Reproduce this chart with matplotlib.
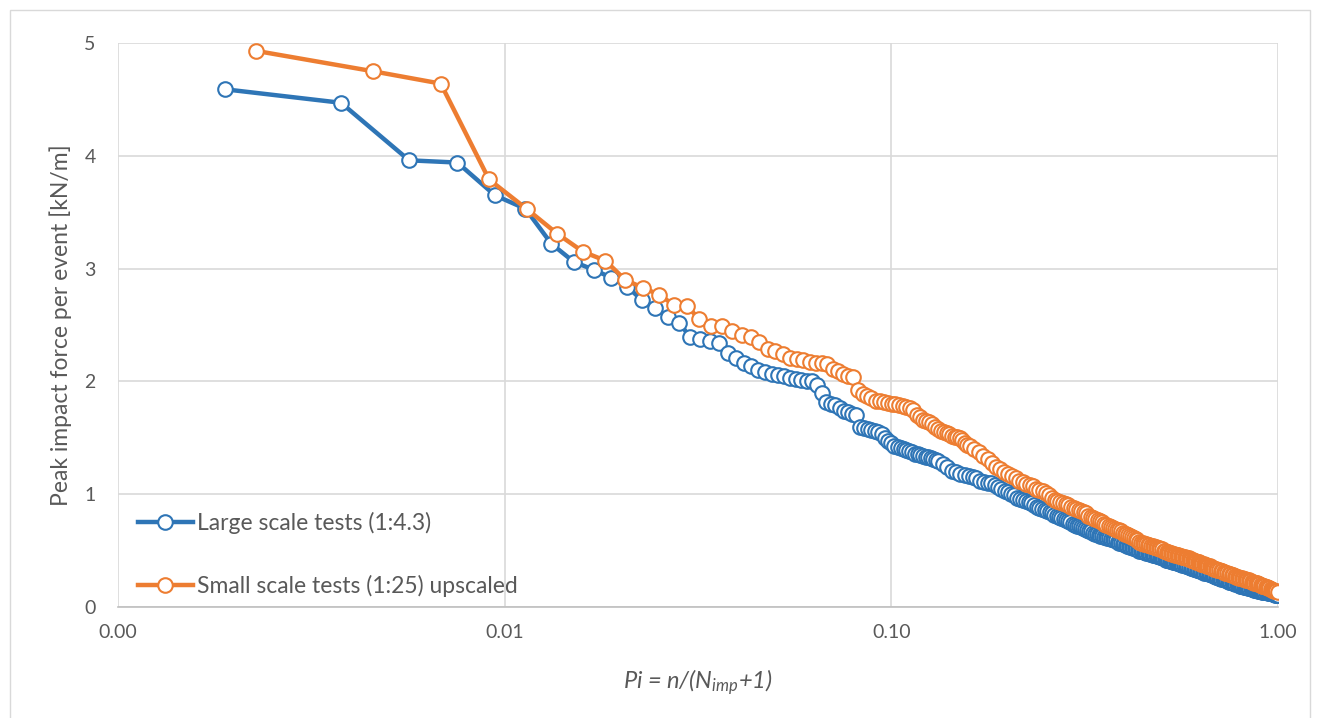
import matplotlib

matplotlib.use("Agg")

import matplotlib.pyplot as plt
from matplotlib.patches import Rectangle
from matplotlib.ticker import FixedLocator, FixedFormatter, NullLocator


# 冲击次数 N_imp（两组试验）
LARGE_N_IMP = 529
SMALL_N_IMP = 438

# 大比尺试验 (1:4.3)：排序序号 n 与对应峰值冲击力 [kN/m]
# 尾部点很密，按 2 / 3 的序号间隔读取
large_rank = (list(range(1, 71)) + list(range(72, 101, 2)) + list(range(102, 301, 2))
              + list(range(303, 529, 3)) + [529])
large_force = [
    4.59, 4.47, 3.96, 3.94, 3.65, 3.53, 3.22, 3.06, 2.99, 2.92,
    2.84, 2.72, 2.65, 2.57, 2.52, 2.39, 2.38, 2.36, 2.34, 2.25,
    2.21, 2.16, 2.14, 2.10, 2.08, 2.07, 2.06, 2.05, 2.03, 2.02,
    2.01, 2.00, 2.00, 1.97, 1.90, 1.82, 1.80, 1.79, 1.76, 1.74,
    1.73, 1.71, 1.70, 1.60, 1.59, 1.58, 1.57, 1.56, 1.55, 1.53,
    1.50, 1.47, 1.45, 1.43, 1.42, 1.41, 1.40, 1.39, 1.38, 1.37,
    1.36, 1.36, 1.35, 1.34, 1.33, 1.33, 1.32, 1.31, 1.30, 1.29,
    # 72-100
    1.27, 1.24, 1.21, 1.20, 1.18, 1.17, 1.16, 1.15, 1.14, 1.12,
    1.11, 1.10, 1.10, 1.08, 1.06,
    # 102-300
    1.05, 1.03, 1.02, 1.00, 0.99, 0.97, 0.96, 0.95, 0.94, 0.93,
    0.92, 0.90, 0.89, 0.88, 0.87, 0.86, 0.85, 0.84, 0.83, 0.82,
    0.81, 0.80, 0.79, 0.78, 0.77, 0.76, 0.75, 0.74, 0.73, 0.72,
    0.72, 0.71, 0.70, 0.69, 0.68, 0.67, 0.67, 0.66, 0.65, 0.65,
    0.64, 0.63, 0.63, 0.62, 0.62, 0.61, 0.61, 0.60, 0.60, 0.59,
    0.59, 0.58, 0.57, 0.57, 0.56, 0.56, 0.55, 0.54, 0.54, 0.53,
    0.53, 0.52, 0.52, 0.51, 0.51, 0.50, 0.50, 0.50, 0.49, 0.49,
    0.48, 0.48, 0.48, 0.47, 0.47, 0.46, 0.46, 0.46, 0.45, 0.45,
    0.44, 0.44, 0.44, 0.43, 0.43, 0.42, 0.42, 0.42, 0.41, 0.41,
    0.41, 0.40, 0.40, 0.40, 0.39, 0.39, 0.39, 0.38, 0.38, 0.375,
    # 303-528
    0.37, 0.365, 0.36, 0.355, 0.35, 0.345, 0.34, 0.335, 0.33, 0.325,
    0.32, 0.315, 0.31, 0.305, 0.30, 0.30, 0.295, 0.29, 0.285, 0.28,
    0.275, 0.27, 0.265, 0.26, 0.255, 0.25, 0.25, 0.245, 0.24, 0.235,
    0.23, 0.225, 0.22, 0.22, 0.215, 0.21, 0.205, 0.20, 0.20, 0.195,
    0.19, 0.19, 0.185, 0.18, 0.18, 0.175, 0.175, 0.17, 0.17, 0.165,
    0.16, 0.16, 0.155, 0.155, 0.15, 0.15, 0.145, 0.145, 0.14, 0.14,
    0.135, 0.135, 0.13, 0.13, 0.13, 0.125, 0.125, 0.12, 0.12, 0.12,
    0.115, 0.115, 0.115, 0.11, 0.11, 0.11,
    # 529
    0.11,
]

# 小比尺试验 (1:25) 换算到原型
small_rank = (list(range(1, 71)) + list(range(72, 101, 2)) + list(range(102, 301, 2))
              + list(range(303, 436, 3)) + [438])
small_force = [
    4.93, 4.75, 4.64, 3.79, 3.53, 3.31, 3.15, 3.07, 2.90, 2.83,
    2.77, 2.68, 2.67, 2.55, 2.49, 2.49, 2.45, 2.41, 2.39, 2.35,
    2.29, 2.27, 2.24, 2.21, 2.20, 2.19, 2.17, 2.16, 2.16, 2.15,
    2.11, 2.09, 2.07, 2.05, 2.04, 1.92, 1.89, 1.87, 1.85, 1.83,
    1.83, 1.82, 1.81, 1.80, 1.80, 1.79, 1.78, 1.77, 1.76, 1.75,
    1.70, 1.68, 1.66, 1.65, 1.64, 1.62, 1.60, 1.58, 1.56, 1.55,
    1.54, 1.53, 1.52, 1.51, 1.51, 1.50, 1.48, 1.45, 1.44, 1.43,
    # 72-100
    1.40, 1.37, 1.34, 1.31, 1.28, 1.24, 1.22, 1.20, 1.18, 1.16,
    1.14, 1.12, 1.11, 1.09, 1.08,
    # 102-300
    1.07, 1.05, 1.04, 1.03, 1.01, 0.99, 0.97, 0.95, 0.94, 0.93,
    0.92, 0.91, 0.90, 0.89, 0.88, 0.87, 0.86, 0.85, 0.84, 0.83,
    0.81, 0.80, 0.79, 0.78, 0.77, 0.76, 0.75, 0.74, 0.73, 0.72,
    0.71, 0.70, 0.69, 0.68, 0.68, 0.67, 0.66, 0.65, 0.65, 0.64,
    0.63, 0.62, 0.61, 0.60, 0.59, 0.58, 0.57, 0.57, 0.56, 0.56,
    0.55, 0.55, 0.54, 0.54, 0.53, 0.53, 0.52, 0.52, 0.51, 0.51,
    0.50, 0.50, 0.49, 0.49, 0.48, 0.48, 0.47, 0.47, 0.46, 0.46,
    0.46, 0.45, 0.45, 0.44, 0.44, 0.44, 0.43, 0.43, 0.43, 0.425,
    0.42, 0.415, 0.41, 0.405, 0.40, 0.40, 0.395, 0.39, 0.385, 0.38,
    0.38, 0.375, 0.37, 0.365, 0.36, 0.36, 0.355, 0.35, 0.345, 0.34,
    # 303-435
    0.335, 0.33, 0.325, 0.32, 0.315, 0.31, 0.305, 0.30, 0.295, 0.29,
    0.285, 0.28, 0.275, 0.27, 0.265, 0.26, 0.26, 0.255, 0.25, 0.245,
    0.24, 0.235, 0.235, 0.23, 0.225, 0.22, 0.215, 0.21, 0.21, 0.205,
    0.20, 0.195, 0.19, 0.19, 0.185, 0.18, 0.175, 0.17, 0.165, 0.16,
    0.155, 0.15, 0.145, 0.14, 0.14,
    # 438
    0.135,
]

series_labels = ["Large scale tests (1:4.3)", "Small scale tests (1:25) upscaled"]

x_ticks = [0.001, 0.01, 0.1, 1.0]
x_tick_labels = ["0.00", "0.01", "0.10", "1.00"]
y_ticks = [0, 1, 2, 3, 4, 5]

BLUE = "#2E75B6"
ORANGE = "#ED7D31"
GRID = "#D9D9D9"
TEXT = "#595959"


def plotting_position(ranks, n_imp):
    """P_i = n / (N_imp + 1)"""
    return [n / (n_imp + 1) for n in ranks]


def main():
    assert len(large_rank) == len(large_force)
    assert len(small_rank) == len(small_force)

    plt.rcParams["font.family"] = ["Lato", "DejaVu Sans"]
    plt.rcParams["mathtext.fontset"] = "custom"
    plt.rcParams["mathtext.it"] = "Lato:italic"
    plt.rcParams["mathtext.rm"] = "Lato:italic"

    fig = plt.figure(figsize=(13.2, 7.18), dpi=100)
    ax = fig.add_axes([118 / 1320, 111 / 718, 1160 / 1320, 564 / 718])

    style = dict(lw=3.2, marker="o", ms=10.5, mfc="white", mew=1.5, zorder=3)
    ax.plot(plotting_position(large_rank, LARGE_N_IMP), large_force,
            color=BLUE, mec=BLUE, label=series_labels[0], **style)
    ax.plot(plotting_position(small_rank, SMALL_N_IMP), small_force,
            color=ORANGE, mec=ORANGE, label=series_labels[1], **style)

    ax.set_xscale("log")
    ax.set_xlim(0.001, 1.0)
    ax.set_ylim(0, 5)
    ax.xaxis.set_major_locator(FixedLocator(x_ticks))
    ax.xaxis.set_major_formatter(FixedFormatter(x_tick_labels))
    ax.xaxis.set_minor_locator(NullLocator())
    ax.set_yticks(y_ticks)

    ax.grid(True, which="major", color=GRID, lw=1.2)
    ax.set_axisbelow(True)
    for side in ["top", "right", "left"]:
        ax.spines[side].set_visible(False)
    ax.spines["bottom"].set_color("#BFBFBF")
    ax.spines["bottom"].set_linewidth(1.2)

    ax.tick_params(axis="both", length=0, labelsize=14, labelcolor=TEXT)
    ax.tick_params(axis="y", pad=16)
    ax.tick_params(axis="x", pad=12)

    ax.set_ylabel("Peak impact force per event [kN/m]", fontsize=16.5, color=TEXT)
    ax.yaxis.set_label_coords(-0.040, 0.5)
    ax.set_xlabel("Pi = n/(N$_{imp}$+1)", fontsize=17, color=TEXT, style="italic", va="center")
    ax.xaxis.set_label_coords(0.5, -0.133)

    ax.legend(loc="center left", bbox_to_anchor=(0.017, 0.093), frameon=False,
              fontsize=16.5, labelcolor=TEXT, handlelength=2.4, handletextpad=0.18,
              labelspacing=1.75, borderpad=0, borderaxespad=0)

    # 图表外框
    fig.patches.append(Rectangle((10 / 1320, -0.01), 1300 / 1320, 1 - 10 / 718 + 0.01,
                                 transform=fig.transFigure, fill=False, ec=GRID, lw=1))

    fig.savefig("out.png", dpi=100)
    plt.close(fig)


if __name__ == "__main__":
    main()
